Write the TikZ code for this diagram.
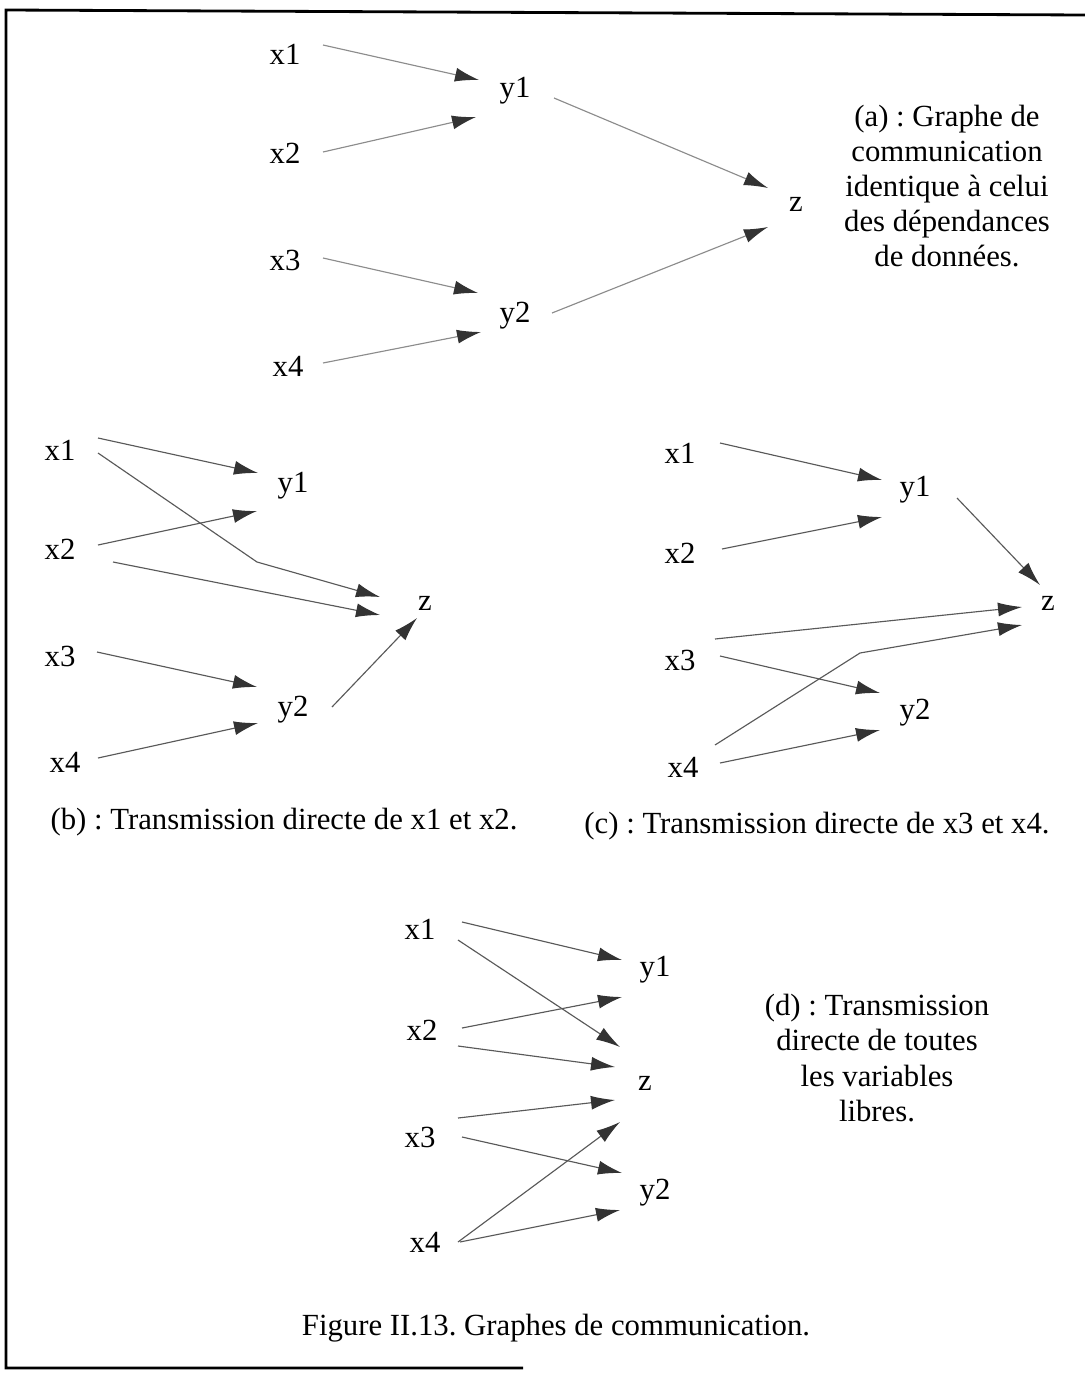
\documentclass[tikz,border=0pt]{standalone}
\usepackage{fontspec}
\setmainfont{Liberation Serif}
\usetikzlibrary{arrows.meta}
\frenchspacing

\begin{document}
\begin{tikzpicture}[x=0.02cm, y=-0.02cm,
    var/.style={inner sep=0pt, font=\fontsize{17.5}{20}\selectfont},
    note/.style={var, align=center},
    arr/.style={draw=black!65, line width=0.65pt, -{Latex[length=4.8mm, width=2.8mm, color=black!80]}},
    faint arr/.style={arr, draw=black!45}]
  \useasboundingbox (0,0) rectangle (1085,1373);
  % frame (only left, top and part of the bottom are visible)
  \draw [line width=1.6pt] (1085,15) -- (6,10) -- (6,1368) -- (523,1368);

  % (a)
  \node [var] (ax1) at (285,54) {x1};
  \node [var] (ax2) at (285,153) {x2};
  \node [var] (ax3) at (285,260) {x3};
  \node [var] (ax4) at (288,366) {x4};
  \node [var] (ay1) at (515,91) {y1};
  \node [var] (ay2) at (515,316) {y2};
  \node [var] (az) at (796,204) {z};
  \draw [faint arr] ([shift={(38,-9)}]ax1.center) -- ([shift={(-36,-11)}]ay1.center);
  \draw [faint arr] ([shift={(38,-1)}]ax2.center) -- ([shift={(-39,26)}]ay1.center);
  \draw [faint arr] ([shift={(38,-2)}]ax3.center) -- ([shift={(-37,-23)}]ay2.center);
  \draw [faint arr] ([shift={(35,-3)}]ax4.center) -- ([shift={(-34,16)}]ay2.center);
  \draw [faint arr] ([shift={(39,7)}]ay1.center) -- ([shift={(-28,-16)}]az.center);
  \draw [faint arr] ([shift={(37,-3)}]ay2.center) -- ([shift={(-28,23)}]az.center);
  \node [note] (anote) at (947,186) {(a) : Graphe de\\communication\\identique à celui\\des dépendances\\de données.};

  % (b)
  \node [var] (bx1) at (60,450) {x1};
  \node [var] (bx2) at (60,549) {x2};
  \node [var] (bx3) at (60,656) {x3};
  \node [var] (bx4) at (65,762) {x4};
  \node [var] (by1) at (293,486) {y1};
  \node [var] (by2) at (293,710) {y2};
  \node [var] (bz) at (425,603) {z};
  \coordinate (bk) at (257,562);
  \draw [arr] ([shift={(38,-12)}]bx1.center) -- ([shift={(-35,-13)}]by1.center);
  \draw [arr] ([shift={(38,3)}]bx1.center) -- (bk) -- ([shift={(-45,-6)}]bz.center);
  \draw [arr] ([shift={(38,-4)}]bx2.center) -- ([shift={(-36,25)}]by1.center);
  \draw [arr] ([shift={(53,13)}]bx2.center) -- ([shift={(-45,12)}]bz.center);
  \draw [arr] ([shift={(37,-4)}]bx3.center) -- ([shift={(-36,-23)}]by2.center);
  \draw [arr] ([shift={(33,-4)}]bx4.center) -- ([shift={(-35,13)}]by2.center);
  \draw [arr] ([shift={(39,-3)}]by2.center) -- ([shift={(-8,15)}]bz.center);
  \node [var] (bcap) at (284,822) {(b) : Transmission directe de x1 et x2.};

  % (c)
  \node [var] (cx1) at (680,453) {x1};
  \node [var] (cx2) at (680,553) {x2};
  \node [var] (cx3) at (680,660) {x3};
  \node [var] (cx4) at (683,767) {x4};
  \node [var] (cy1) at (915,490) {y1};
  \node [var] (cy2) at (915,713) {y2};
  \node [var] (cz) at (1048,603) {z};
  \coordinate (ck) at (860,653);
  \draw [arr] ([shift={(40,-10)}]cx1.center) -- ([shift={(-33,-10)}]cy1.center);
  \draw [arr] ([shift={(42,-4)}]cx2.center) -- ([shift={(-33,27)}]cy1.center);
  \draw [arr] ([shift={(42,8)}]cy1.center) -- ([shift={(-8,-18)}]cz.center);
  \draw [arr] ([shift={(35,-21)}]cx3.center) -- ([shift={(-26,4)}]cz.center);
  \draw [arr] ([shift={(32,-22)}]cx4.center) -- (ck) -- ([shift={(-26,22)}]cz.center);
  \draw [arr] ([shift={(40,-4)}]cx3.center) -- ([shift={(-35,-20)}]cy2.center);
  \draw [arr] ([shift={(37,-4)}]cx4.center) -- ([shift={(-35,17)}]cy2.center);
  \node [var] (ccap) at (817,826) {(c) : Transmission directe de x3 et x4.};

  % (d)
  \node [var] (dx1) at (420,929) {x1};
  \node [var] (dx2) at (422,1030) {x2};
  \node [var] (dx3) at (420,1137) {x3};
  \node [var] (dx4) at (425,1242) {x4};
  \node [var] (dy1) at (655,970) {y1};
  \node [var] (dy2) at (655,1193) {y2};
  \node [var] (dz) at (645,1083) {z};
  \draw [arr] ([shift={(42,-7)}]dx1.center) -- ([shift={(-33,-10)}]dy1.center);
  \draw [arr] ([shift={(38,11)}]dx1.center) -- ([shift={(-25,-36)}]dz.center);
  \draw [arr] ([shift={(40,-2)}]dx2.center) -- ([shift={(-33,27)}]dy1.center);
  \draw [arr] ([shift={(36,16)}]dx2.center) -- ([shift={(-30,-16)}]dz.center);
  \draw [arr] ([shift={(38,-19)}]dx3.center) -- ([shift={(-30,17)}]dz.center);
  \draw [arr] ([shift={(42,0)}]dx3.center) -- ([shift={(-33,-20)}]dy2.center);
  \draw [arr] ([shift={(33,0)}]dx4.center) -- ([shift={(-25,39)}]dz.center);
  \draw [arr] ([shift={(35,0)}]dx4.center) -- ([shift={(-35,17)}]dy2.center);
  \node [note] (dnote) at (877,1058) {(d) : Transmission\\directe de toutes\\les variables\\libres.};

  \node [var] (fig) at (556,1328) {Figure II.13. Graphes de communication.};
\end{tikzpicture}
\end{document}
